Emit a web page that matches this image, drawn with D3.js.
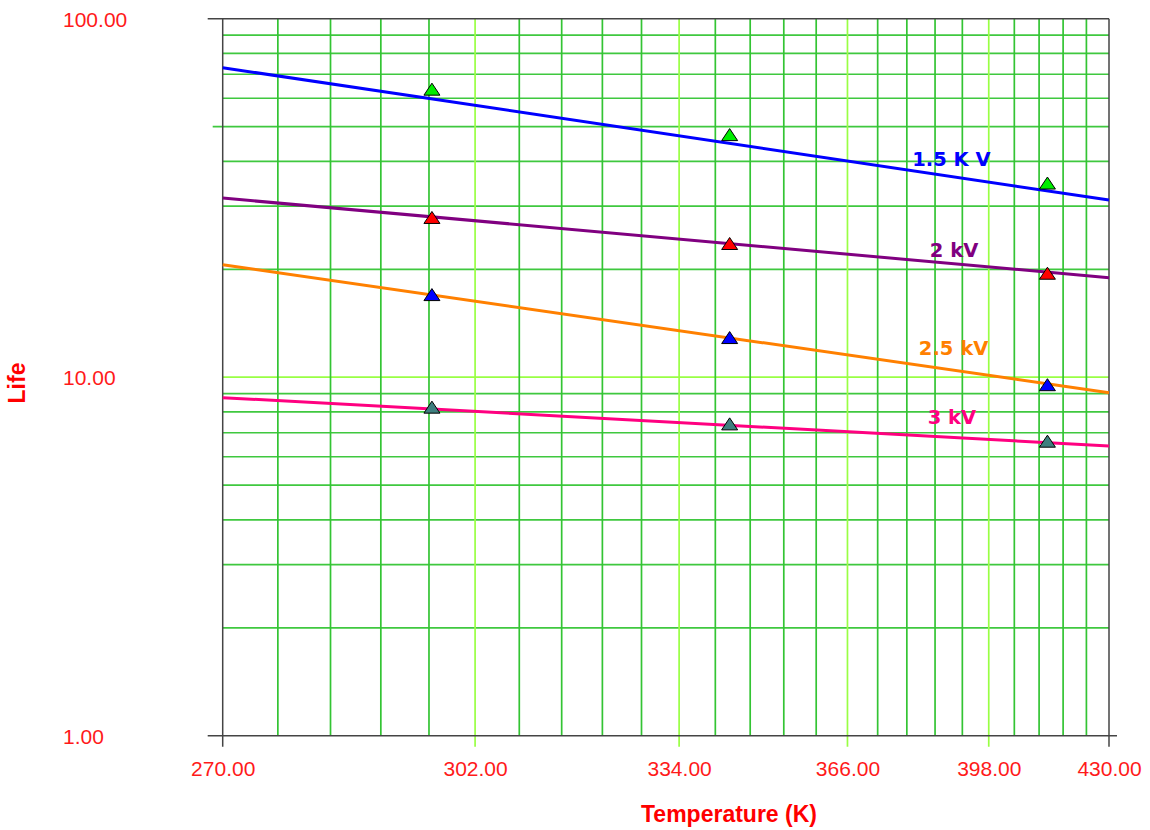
<!DOCTYPE html>
<html>
<head>
<meta charset="utf-8">
<style>
  body { margin: 0; background: #fff; }
  svg { display: block; }
</style>
</head>
<body>
<svg width="1150" height="830"></svg>
<script src="https://cdn.jsdelivr.net/npm/d3@7"></script>
<script>

// temperatures where the tests were run (K)
var temps = [296, 343, 413];

// voltage levels
var series = ["1.5 K V", "2 kV", "2.5 kV", "3 kV"];

// measured life at each temperature, one array per voltage
var life15 = [63.6, 47.5, 34.8];
var life20 = [27.9, 23.6, 19.5];
var life25 = [17.0, 12.9, 9.53];
var life30 = [8.25, 7.41, 6.63];

// fitted life line, value at 270 K and at 430 K
var fitT = [270, 430];
var fit15 = [73.0, 31.2];
var fit20 = [31.6, 18.95];
var fit25 = [20.6, 9.05];
var fit30 = [8.77, 6.43];

// axis ticks
var xTicks = [270, 302, 334, 366, 398, 430];
var yTicks = [1, 10, 100];

var lineColors = ["#0000ff", "#800080", "#ff8000", "#ff0080"];
var markColors = ["#00ee00", "#ff0000", "#0000ff", "#3f7f7f"];

var svg = d3.select("svg");

var mLeft = 222.7, mRight = 1109, mTop = 18.7, mBottom = 735.7;

// Arrhenius plot: x is linear in 1/T
var x = d3.scaleLinear()
    .domain([1 / 270, 1 / 430])
    .range([mLeft, mRight]);
function xT(t) { return x(1 / t); }

var y = d3.scaleLog()
    .domain([1, 100])
    .range([mBottom, mTop]);

// ---- grid ----
var xMinor = [];
for (var i = 0; i < xTicks.length - 1; i++) {
  var step = (xTicks[i + 1] - xTicks[i]) / 5;
  for (var k = 1; k < 5; k++) xMinor.push(xTicks[i] + k * step);
}
var yMinor = [];
[1, 10].forEach(function(d) {
  for (var k = 2; k < 10; k++) yMinor.push(d * k);
});

var grid = svg.append("g");

grid.selectAll(".hminor")
  .data(yMinor)
  .enter().append("line")
    .attr("x1", function(d) { return d == 50 ? mLeft - 10 : mLeft; })
    .attr("x2", mRight)
    .attr("y1", function(d) { return y(d); })
    .attr("y2", function(d) { return y(d); })
    .attr("stroke", "#3fc83f")
    .attr("stroke-width", 1.7);

grid.append("line")
    .attr("x1", mLeft).attr("x2", mRight)
    .attr("y1", y(10)).attr("y2", y(10))
    .attr("stroke", "#99ff44")
    .attr("stroke-width", 1.7);

grid.selectAll(".vminor")
  .data(xMinor)
  .enter().append("line")
    .attr("x1", function(d) { return xT(d); })
    .attr("x2", function(d) { return xT(d); })
    .attr("y1", mTop)
    .attr("y2", mBottom)
    .attr("stroke", "#33c433")
    .attr("stroke-width", 1.7);

grid.selectAll(".vmajor")
  .data(xTicks.slice(1, -1))
  .enter().append("line")
    .attr("x1", function(d) { return xT(d); })
    .attr("x2", function(d) { return xT(d); })
    .attr("y1", mTop)
    .attr("y2", mBottom + 11)
    .attr("stroke", "#99ff44")
    .attr("stroke-width", 1.7);

// ---- frame ----
var frame = svg.append("g")
    .attr("stroke", "#444")
    .attr("stroke-width", 1.5);
frame.append("line").attr("x1", mLeft - 15).attr("x2", mRight).attr("y1", mTop).attr("y2", mTop);
frame.append("line").attr("x1", mLeft - 15).attr("x2", mRight + 8).attr("y1", mBottom).attr("y2", mBottom);
frame.append("line").attr("x1", mLeft).attr("x2", mLeft).attr("y1", mTop).attr("y2", mBottom + 11);
frame.append("line").attr("x1", mRight).attr("x2", mRight).attr("y1", mTop).attr("y2", mBottom + 11);

// ---- tick labels ----
var xAxis = svg.append("g")
    .attr("transform", "translate(0," + mBottom + ")")
    .call(d3.axisBottom(x)
      .tickValues(xTicks.map(function(t) { return 1 / t; }))
      .tickFormat(function(v) { return d3.format(".2f")(1 / v); })
      .tickSize(0)
      .tickPadding(25));
xAxis.select(".domain").remove();
xAxis.selectAll("text")
    .attr("fill", "#ff1a1a")
    .attr("font-family", "Liberation Sans, Arial, sans-serif")
    .attr("font-size", 21);

var yAxis = svg.append("g")
    .attr("transform", "translate(" + mLeft + ",0)")
    .call(d3.axisLeft(y)
      .tickValues(yTicks)
      .tickFormat(d3.format(".2f"))
      .tickSize(0));
yAxis.select(".domain").remove();
yAxis.selectAll("text")
    .attr("text-anchor", "start")
    .attr("x", 63 - mLeft)
    .attr("dy", "0.36em")
    .attr("fill", "#ff1a1a")
    .attr("font-family", "Liberation Sans, Arial, sans-serif")
    .attr("font-size", 21);

// axis titles
svg.append("text")
    .attr("x", 729)
    .attr("y", 822)
    .attr("text-anchor", "middle")
    .attr("fill", "red")
    .attr("font-family", "Liberation Sans, Arial, sans-serif")
    .attr("font-weight", "bold")
    .attr("font-size", 23)
    .text("Temperature (K)");

svg.append("text")
    .attr("transform", "translate(25,383) rotate(-90)")
    .attr("text-anchor", "middle")
    .attr("fill", "red")
    .attr("font-family", "Liberation Sans, Arial, sans-serif")
    .attr("font-weight", "bold")
    .attr("font-size", 23)
    .text("Life");

// ---- fitted lines, points, labels ----
var lives = [life15, life20, life25, life30];
var fits = [fit15, fit20, fit25, fit30];

var line = d3.line()
    .x(function(d) { return xT(d[0]); })
    .y(function(d) { return y(d[1]); });

svg.append("g").selectAll("path")
  .data(fits)
  .enter().append("path")
    .attr("d", function(f) { return line(fitT.map(function(t, j) { return [t, f[j]]; })); })
    .attr("fill", "none")
    .attr("stroke", function(d, i) { return lineColors[i]; })
    .attr("stroke-width", 3);

// flat triangle marker, 16 wide x 12 tall, centred on the point
var tri = {
  draw: function(ctx) {
    ctx.moveTo(0, -6);
    ctx.lineTo(8, 6);
    ctx.lineTo(-8, 6);
    ctx.closePath();
  }
};
var symbol = d3.symbol().type(tri);

lives.forEach(function(vals, i) {
  svg.append("g").selectAll("path")
    .data(vals)
    .enter().append("path")
      .attr("transform", function(d, j) { return "translate(" + xT(temps[j]) + "," + y(d) + ")"; })
      .attr("d", symbol)
      .attr("fill", markColors[i])
      .attr("stroke", "#000")
      .attr("stroke-width", 1);
});

// line labels, placed along each fitted line
var labelT = [380, 384, 381.5, 383.5];
var labelDy = [-5, -4.5, -10.5, -12];

function fitAt(f, t) {
  var a = (1 / t - 1 / fitT[0]) / (1 / fitT[1] - 1 / fitT[0]);
  return Math.exp(Math.log(f[0]) + a * (Math.log(f[1]) - Math.log(f[0])));
}

svg.append("g").selectAll("text")
  .data(series)
  .enter().append("text")
    .attr("x", function(d, i) { return xT(labelT[i]); })
    .attr("y", function(d, i) { return y(fitAt(fits[i], labelT[i])) + labelDy[i]; })
    .attr("fill", function(d, i) { return lineColors[i]; })
    .attr("font-family", "DejaVu Sans, Verdana, sans-serif")
    .attr("font-weight", "bold")
    .attr("font-size", 19.5)
    .text(function(d) { return d; });

</script>
</body>
</html>
